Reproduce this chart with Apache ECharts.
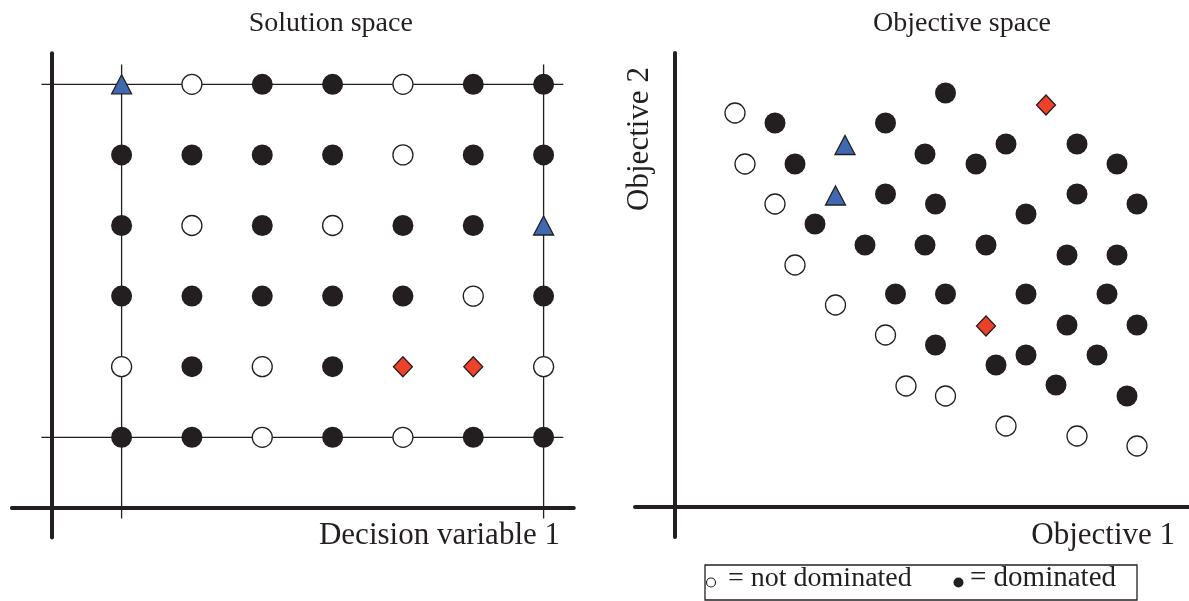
<!DOCTYPE html>
<html>
<head>
<meta charset="utf-8">
<style>
  html, body { margin: 0; padding: 0; background: #fff; }
  #grafico { width: 1189px; height: 601px; }
</style>
<script src="https://cdn.jsdelivr.net/npm/echarts@6/dist/echarts.min.js"></script>
</head>
<body>
<div id="grafico"></div>
<script>
// Solution space: grid of decision variable combinations (column 1..7, row 1..6)
var solNotDominated = [[2, 6], [5, 6], [5, 5], [2, 4], [4, 4], [6, 3], [1, 2], [3, 2], [7, 2], [3, 1], [5, 1]];
var solDominated = [
    [3, 6], [4, 6], [6, 6], [7, 6],
    [1, 5], [2, 5], [3, 5], [4, 5], [6, 5], [7, 5],
    [1, 4], [3, 4], [5, 4], [6, 4],
    [1, 3], [2, 3], [3, 3], [4, 3], [5, 3], [7, 3],
    [2, 2], [4, 2],
    [1, 1], [2, 1], [4, 1], [6, 1], [7, 1]
];
var solTriangles = [[1, 6], [7, 4]];
var solDiamonds = [[5, 2], [6, 2]];
// bounds of the thin box lines
var boxRows = [1, 6];
var boxCols = [1, 7];
var boxXRange = [-0.14, 7.28];
var boxYRange = [-0.15, 6.28];

// Objective space
var objNotDominated = [[6.0, 39.4], [7.0, 34.3], [10.0, 30.3], [12.0, 24.2], [16.05, 20.2], [21.05, 17.2],
    [23.1, 12.1], [27.05, 11.1], [33.1, 8.1], [40.2, 7.1], [46.2, 6.1]];
var objDominated = [
    [10.0, 38.4], [27.05, 41.4], [21.05, 38.4], [12.0, 34.3], [25.0, 35.3], [30.1, 34.3],
    [33.1, 36.3], [40.2, 36.3], [44.2, 34.3], [21.05, 31.3], [26.05, 30.3], [35.1, 29.3],
    [40.2, 31.3], [46.2, 30.3], [14.0, 28.3], [19.0, 26.2], [25.0, 26.2], [31.1, 26.2],
    [39.2, 25.2], [44.2, 25.2], [22.05, 21.3], [27.05, 21.3], [35.1, 21.3], [43.2, 21.3],
    [26.05, 16.2], [39.2, 18.2], [46.2, 18.2], [32.1, 14.2], [35.1, 15.2], [42.2, 15.2],
    [38.1, 12.2], [45.2, 11.1]
];
var objTriangles = [[17.0, 36.2], [16.05, 31.15]];
var objDiamonds = [[37.1, 40.2], [31.1, 18.1]];

var textos = {
    titulo1: 'Solution space',
    titulo2: 'Objective space',
    eixoX1: 'Decision variable 1',
    eixoX2: 'Objective 1',
    eixoY2: 'Objective 2',
    legNao: 'not dominated',
    legSim: 'dominated'
};

var preto = '#231f20';
var azul = '#4169b2';
var vermelho = '#ee4129';
var fonte = '"Liberation Serif", "Times New Roman", serif';

function eixo(grid, min, max) {
    return {
        type: 'value',
        gridIndex: grid,
        min: min,
        max: max,
        axisLine: { show: true, onZero: true, lineStyle: { color: preto, width: 4 } },
        axisTick: { show: false },
        axisLabel: { show: false },
        splitLine: { show: false }
    };
}

function pontos(name, grid, data, symbol, size, cor, borda) {
    return {
        name: name,
        type: 'scatter',
        xAxisIndex: grid,
        yAxisIndex: grid,
        symbol: symbol,
        symbolSize: size,
        data: data,
        z: 3,
        silent: true,
        itemStyle: { color: cor, borderColor: preto, borderWidth: borda, opacity: 1 }
    };
}

var series_grafico = [];

boxRows.forEach(function (r) {
    series_grafico.push({
        type: 'line', xAxisIndex: 0, yAxisIndex: 0, symbol: 'none', silent: true, z: 1,
        lineStyle: { color: preto, width: 1.3 },
        data: [[boxXRange[0], r], [boxXRange[1], r]]
    });
});
boxCols.forEach(function (c) {
    series_grafico.push({
        type: 'line', xAxisIndex: 0, yAxisIndex: 0, symbol: 'none', silent: true, z: 1,
        lineStyle: { color: preto, width: 1.3 },
        data: [[c, boxYRange[0]], [c, boxYRange[1]]]
    });
});

series_grafico.push(pontos('solNao', 0, solNotDominated, 'circle', 20, '#fff', 1.3));
series_grafico.push(pontos('solSim', 0, solDominated, 'circle', 21, preto, 0));
series_grafico.push(pontos('solTri', 0, solTriangles, 'triangle', [20, 19], azul, 1.3));
series_grafico.push(pontos('solDia', 0, solDiamonds, 'diamond', [19, 20], vermelho, 1.3));

series_grafico.push(pontos('objNao', 1, objNotDominated, 'circle', 20, '#fff', 1.3));
series_grafico.push(pontos('objSim', 1, objDominated, 'circle', 21, preto, 0));
series_grafico.push(pontos('objTri', 1, objTriangles, 'triangle', [20, 19], azul, 1.3));
series_grafico.push(pontos('objDia', 1, objDiamonds, 'diamond', [19, 20], vermelho, 1.3));

function texto(t, x, y, size, align, extra) {
    var el = {
        type: 'text',
        x: x,
        y: y,
        silent: true,
        style: {
            text: t,
            font: size + 'px ' + fonte,
            fill: preto,
            align: align,
            verticalAlign: 'middle'
        }
    };
    if (extra) Object.assign(el, extra);
    return el;
}

var option = {
    animation: false,
    backgroundColor: '#fff',
    grid: [
        { left: 11.88, top: 53.24, width: 561.96, height: 484.31 },
        { left: 635, top: 53, width: 554, height: 484 }
    ],
    xAxis: [eixo(0, -0.56, 7.43), eixo(1, -4, 51.4)],
    yAxis: [eixo(0, -0.42, 6.44), eixo(1, -3, 45.4)],
    series: series_grafico,
    graphic: [
        texto(textos.titulo1, 330.8, 23.5, 28, 'center'),
        texto(textos.titulo2, 962, 23.5, 28, 'center'),
        texto(textos.eixoX1, 560, 536, 31, 'right'),
        texto(textos.eixoX2, 1175, 535.5, 31, 'right'),
        texto(textos.eixoY2, 640, 139, 31, 'center', { rotation: Math.PI / 2 }),
        {
            type: 'rect',
            silent: true,
            shape: { x: 705, y: 565, width: 432, height: 35 },
            style: { fill: 'none', stroke: preto, lineWidth: 1.3 }
        },
        {
            type: 'circle',
            silent: true,
            shape: { cx: 711, cy: 582.5, r: 4.5 },
            style: { fill: 'none', stroke: preto, lineWidth: 1.1 }
        },
        texto('= ' + textos.legNao, 728, 578.5, 28, 'left'),
        {
            type: 'circle',
            silent: true,
            shape: { cx: 958.5, cy: 582.5, r: 5 },
            style: { fill: preto }
        },
        texto('= ' + textos.legSim, 970, 578.5, 29, 'left')
    ]
};

var myChart = echarts.init(document.getElementById('grafico'));
myChart.setOption(option);
</script>
</body>
</html>
